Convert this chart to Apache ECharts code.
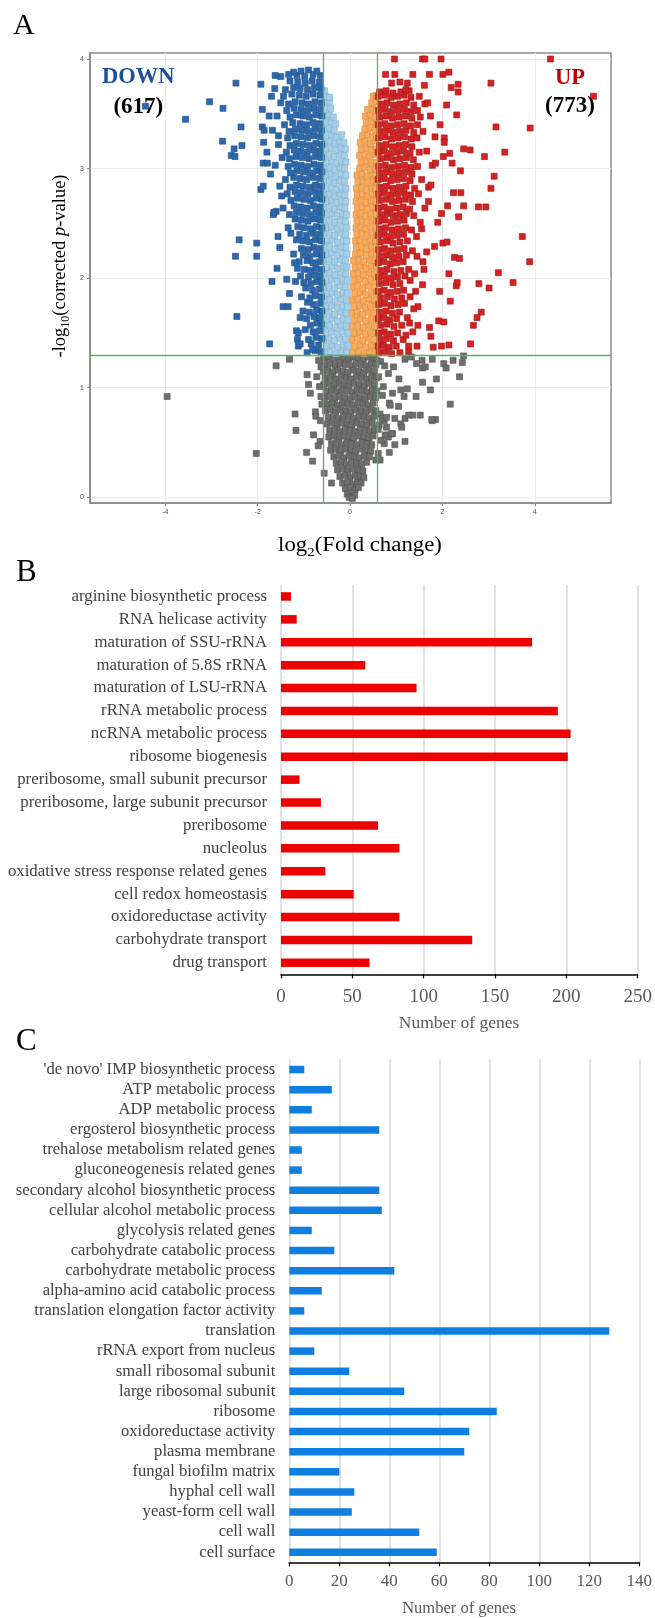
<!DOCTYPE html>
<html><head><meta charset="utf-8">
<script src="https://cdn.jsdelivr.net/npm/echarts@6/dist/echarts.min.js"></script>
<style>html,body{margin:0;padding:0;background:#fff}#c{width:655px;height:1618px}</style>
</head><body><div id="c"></div>
<script>
// ---------- Panel A: volcano plot ----------
const fcCut = 0.585;   // log2(1.5)
const pCut = 1.301;    // -log10(0.05)
const volXTicks = [-4, -2, 0, 2, 4];
const volYTicks = [0, 1, 2, 3, 4];
const downCount = '(617)';
const upCount = '(773)';

const grayPts = [
[-0.57,1.27],[-0.46,1.28],[-0.35,1.26],[-0.24,1.28],[-0.13,1.27],[-0.03,1.26],[0.07,1.28],[0.18,1.27],[0.29,1.26],[0.40,1.28],[0.51,1.27],[0.58,1.25],
[-0.55,1.21],[-0.44,1.22],[-0.32,1.20],[-0.21,1.22],[-0.10,1.21],[0.04,1.20],[0.13,1.22],[0.24,1.21],[0.35,1.20],[0.46,1.22],[0.56,1.21],
[-0.58,1.15],[-0.48,1.16],[-0.37,1.14],[-0.26,1.16],[-0.15,1.15],[-0.05,1.14],[0.08,1.16],[0.19,1.15],[0.30,1.14],[0.41,1.16],[0.52,1.15],
[-0.54,1.09],[-0.42,1.10],[-0.31,1.08],[-0.19,1.10],[-0.08,1.09],[0.03,1.08],[0.14,1.10],[0.25,1.09],[0.36,1.08],[0.47,1.10],[0.57,1.09],
[-0.57,1.03],[-0.45,1.04],[-0.34,1.02],[-0.23,1.04],[-0.12,1.03],[-0.02,1.02],[0.09,1.04],[0.20,1.03],[0.31,1.02],[0.42,1.04],[0.53,1.03],
[-0.52,0.97],[-0.40,0.98],[-0.29,0.96],[-0.18,0.98],[-0.07,0.97],[0.05,0.96],[0.15,0.98],[0.26,0.97],[0.37,0.96],[0.48,0.98],[0.58,0.97],
[-0.55,0.91],[-0.44,0.92],[-0.33,0.90],[-0.22,0.92],[-0.11,0.91],[0.01,0.90],[0.11,0.92],[0.22,0.91],[0.33,0.90],[0.44,0.92],[0.55,0.91],
[-0.50,0.85],[-0.39,0.86],[-0.27,0.84],[-0.16,0.86],[-0.05,0.85],[0.06,0.84],[0.17,0.86],[0.28,0.85],[0.39,0.84],[0.50,0.86],
[-0.53,0.79],[-0.42,0.80],[-0.31,0.78],[-0.20,0.80],[-0.09,0.79],[0.02,0.78],[0.13,0.80],[0.24,0.79],[0.35,0.78],[0.46,0.80],[0.56,0.79],
[-0.47,0.73],[-0.36,0.74],[-0.25,0.72],[-0.14,0.74],[-0.03,0.73],[0.08,0.72],[0.19,0.74],[0.30,0.73],[0.41,0.72],[0.52,0.74],
[-0.50,0.67],[-0.39,0.68],[-0.28,0.66],[-0.17,0.68],[-0.06,0.67],[0.04,0.66],[0.15,0.68],[0.26,0.67],[0.37,0.66],[0.48,0.68],
[-0.44,0.61],[-0.33,0.62],[-0.22,0.60],[-0.11,0.62],[0.00,0.61],[0.11,0.60],[0.22,0.62],[0.33,0.61],[0.44,0.60],[0.53,0.62],
[-0.46,0.55],[-0.35,0.56],[-0.24,0.54],[-0.13,0.56],[-0.02,0.55],[0.08,0.54],[0.19,0.56],[0.30,0.55],[0.41,0.54],[0.50,0.56],
[-0.40,0.49],[-0.29,0.50],[-0.18,0.48],[-0.07,0.50],[0.04,0.49],[0.15,0.48],[0.26,0.50],[0.37,0.49],[0.47,0.48],
[-0.42,0.43],[-0.31,0.44],[-0.20,0.42],[-0.09,0.44],[0.02,0.43],[0.12,0.42],[0.23,0.44],[0.34,0.43],[0.45,0.42],
[-0.35,0.37],[-0.24,0.38],[-0.13,0.36],[-0.02,0.38],[0.09,0.37],[0.20,0.36],[0.31,0.38],[0.42,0.37],
[-0.30,0.31],[-0.19,0.32],[-0.08,0.30],[0.03,0.32],[0.14,0.31],[0.25,0.30],[0.36,0.32],
[-0.27,0.25],[-0.16,0.26],[-0.05,0.24],[0.06,0.26],[0.17,0.25],[0.28,0.24],
[-0.22,0.19],[-0.11,0.20],[0.00,0.18],[0.11,0.20],[0.22,0.19],[0.30,0.18],
[-0.16,0.13],[-0.05,0.14],[0.06,0.12],[0.16,0.14],[0.24,0.13],
[-0.10,0.08],[0.01,0.09],[0.11,0.07],[0.18,0.09],
[-0.06,0.03],[0.04,0.04],[0.10,0.02],
[-0.02,0.00],[0.05,-0.01],
[-3.96,0.92],[-2.03,0.40],[-1.60,1.20],[-1.31,1.26],[-0.93,1.12],[-0.90,1.03],[-0.86,0.95],[-1.19,0.76],[-1.17,0.61],[-0.75,0.78],[-0.74,0.74],[-0.79,0.57],[-0.94,0.41],[-0.81,0.33],[-0.65,0.51],[-0.69,0.47],[-0.56,0.22],[-0.63,1.19],[-0.66,1.01],[-0.63,0.92],[-0.40,0.13],[-0.68,1.25],[-0.72,1.10],[-0.64,0.70],[-0.61,0.85],
[2.46,1.29],[2.43,1.23],[2.37,1.10],[2.23,1.25],[2.03,1.22],[2.08,1.18],[2.17,0.85],[1.87,1.08],[1.74,0.98],[1.57,1.05],[1.78,1.26],[1.57,1.18],[1.63,1.19],[1.85,0.71],[1.78,0.70],[1.56,1.25],[1.44,1.22],[1.33,1.28],[1.19,1.26],[1.43,0.92],[1.10,0.98],[1.17,0.92],[1.24,0.99],[1.36,0.75],[1.19,0.72],[1.27,0.75],[0.97,0.72],[1.10,0.67],[1.12,0.64],[0.92,0.58],[0.83,0.55],[0.74,0.49],[1.19,0.51],[0.97,0.48],[0.85,0.41],[0.68,0.52],[0.85,0.86],[0.65,0.76],[0.74,0.70],[0.79,0.64],[0.63,0.66],[0.61,0.40],[0.56,0.34],[0.94,1.19],[0.83,1.13],[1.06,1.08],[0.72,1.01],[0.92,0.95],[0.87,0.84],[1.05,0.83],[0.69,0.72],[0.79,0.73],[1.52,0.75],[1.77,0.71],[0.90,0.58],[0.76,0.57],[0.65,0.34],[0.66,1.24],[0.75,1.20],[0.62,1.10],[0.70,0.93],[0.61,0.62]
];

const lightBluePts = [
[-0.55,1.32],[-0.43,1.33],[-0.31,1.31],[-0.19,1.33],[-0.07,1.32],
[-0.51,1.38],[-0.39,1.39],[-0.27,1.37],[-0.15,1.39],[-0.04,1.38],
[-0.56,1.44],[-0.45,1.45],[-0.34,1.43],[-0.22,1.45],[-0.10,1.44],
[-0.52,1.50],[-0.40,1.51],[-0.28,1.49],[-0.16,1.51],[-0.05,1.50],
[-0.55,1.56],[-0.44,1.57],[-0.32,1.55],[-0.20,1.57],[-0.08,1.56],
[-0.51,1.62],[-0.39,1.63],[-0.27,1.61],[-0.15,1.63],[-0.05,1.62],
[-0.56,1.68],[-0.45,1.69],[-0.33,1.67],[-0.21,1.69],[-0.09,1.68],
[-0.52,1.74],[-0.40,1.75],[-0.28,1.73],[-0.16,1.75],[-0.06,1.74],
[-0.55,1.80],[-0.44,1.81],[-0.32,1.79],[-0.20,1.81],[-0.08,1.80],
[-0.51,1.86],[-0.39,1.87],[-0.27,1.85],[-0.15,1.87],[-0.06,1.86],
[-0.56,1.92],[-0.45,1.93],[-0.33,1.91],[-0.21,1.93],[-0.10,1.92],
[-0.52,1.98],[-0.40,1.99],[-0.28,1.97],[-0.16,1.99],[-0.06,1.98],
[-0.55,2.04],[-0.44,2.05],[-0.32,2.03],[-0.20,2.05],[-0.09,2.04],
[-0.51,2.10],[-0.39,2.11],[-0.27,2.09],[-0.15,2.11],[-0.07,2.10],
[-0.56,2.16],[-0.45,2.17],[-0.33,2.15],[-0.21,2.17],[-0.10,2.16],
[-0.52,2.22],[-0.40,2.23],[-0.28,2.21],[-0.16,2.23],[-0.07,2.22],
[-0.55,2.28],[-0.44,2.29],[-0.32,2.27],[-0.20,2.29],[-0.09,2.28],
[-0.51,2.34],[-0.39,2.35],[-0.27,2.33],[-0.15,2.35],[-0.07,2.34],
[-0.56,2.40],[-0.45,2.41],[-0.33,2.39],[-0.21,2.41],[-0.10,2.40],
[-0.52,2.46],[-0.40,2.47],[-0.28,2.45],[-0.17,2.47],[-0.08,2.46],
[-0.55,2.52],[-0.44,2.53],[-0.32,2.51],[-0.21,2.53],[-0.10,2.52],
[-0.51,2.58],[-0.39,2.59],[-0.28,2.57],[-0.17,2.59],[-0.08,2.58],
[-0.56,2.64],[-0.45,2.65],[-0.33,2.63],[-0.22,2.65],[-0.11,2.64],
[-0.52,2.70],[-0.40,2.71],[-0.29,2.69],[-0.18,2.71],[-0.09,2.70],
[-0.55,2.76],[-0.44,2.77],[-0.33,2.75],[-0.22,2.77],[-0.11,2.76],
[-0.51,2.82],[-0.40,2.83],[-0.29,2.81],[-0.18,2.83],[-0.09,2.82],
[-0.56,2.88],[-0.45,2.89],[-0.34,2.87],[-0.23,2.89],[-0.12,2.88],
[-0.52,2.94],[-0.41,2.95],[-0.30,2.93],[-0.19,2.95],[-0.09,2.94],
[-0.55,3.00],[-0.44,3.01],[-0.33,2.99],[-0.22,3.01],[-0.12,3.00],
[-0.51,3.06],[-0.40,3.07],[-0.29,3.05],[-0.18,3.07],[-0.09,3.06],
[-0.56,3.12],[-0.45,3.13],[-0.34,3.11],[-0.23,3.13],[-0.12,3.12],
[-0.52,3.18],[-0.41,3.19],[-0.30,3.17],[-0.19,3.19],[-0.10,3.18],
[-0.55,3.24],[-0.44,3.25],[-0.33,3.23],[-0.22,3.25],[-0.13,3.24],
[-0.51,3.30],[-0.40,3.31],[-0.29,3.29],[-0.18,3.31],
[-0.55,3.36],[-0.44,3.37],[-0.34,3.35],
[-0.52,3.42],[-0.41,3.43],[-0.31,3.41],
[-0.56,3.48],[-0.45,3.49],[-0.36,3.47],
[-0.52,3.54],[-0.42,3.55],
[-0.55,3.60],[-0.45,3.61],
[-0.53,3.66],[-0.44,3.65],
[-0.55,3.71]
];

const orangePts = [
[0.06,1.32],[0.18,1.33],[0.30,1.31],[0.42,1.33],[0.54,1.32],
[0.10,1.38],[0.22,1.39],[0.34,1.37],[0.46,1.39],[0.57,1.38],
[0.05,1.44],[0.16,1.45],[0.28,1.43],[0.40,1.45],[0.52,1.44],
[0.09,1.50],[0.21,1.51],[0.33,1.49],[0.45,1.51],[0.56,1.50],
[0.06,1.56],[0.17,1.57],[0.29,1.55],[0.41,1.57],[0.53,1.56],
[0.10,1.62],[0.22,1.63],[0.34,1.61],[0.46,1.63],[0.57,1.62],
[0.05,1.68],[0.16,1.69],[0.28,1.67],[0.40,1.69],[0.52,1.68],
[0.09,1.74],[0.21,1.75],[0.33,1.73],[0.45,1.75],[0.56,1.74],
[0.06,1.80],[0.17,1.81],[0.29,1.79],[0.41,1.81],[0.53,1.80],
[0.10,1.86],[0.22,1.87],[0.34,1.85],[0.46,1.87],[0.57,1.86],
[0.06,1.92],[0.17,1.93],[0.28,1.91],[0.40,1.93],[0.52,1.92],
[0.10,1.98],[0.21,1.99],[0.33,1.97],[0.45,1.99],[0.56,1.98],
[0.07,2.04],[0.18,2.05],[0.29,2.03],[0.41,2.05],[0.53,2.04],
[0.11,2.10],[0.22,2.11],[0.34,2.09],[0.46,2.11],[0.57,2.10],
[0.08,2.16],[0.19,2.17],[0.30,2.15],[0.42,2.17],[0.54,2.16],
[0.12,2.22],[0.23,2.23],[0.35,2.21],[0.47,2.23],[0.57,2.22],
[0.14,2.28],[0.25,2.29],[0.36,2.27],[0.47,2.29],[0.57,2.28],
[0.12,2.34],[0.22,2.35],[0.33,2.33],[0.44,2.35],[0.55,2.34],
[0.15,2.40],[0.26,2.41],[0.37,2.39],[0.48,2.41],[0.57,2.40],
[0.13,2.46],[0.23,2.47],[0.34,2.45],[0.45,2.47],[0.56,2.46],
[0.15,2.52],[0.26,2.53],[0.37,2.51],[0.48,2.53],[0.57,2.52],
[0.13,2.58],[0.23,2.59],[0.34,2.57],[0.45,2.59],[0.56,2.58],
[0.16,2.64],[0.27,2.65],[0.38,2.63],[0.49,2.65],[0.57,2.64],
[0.13,2.70],[0.24,2.71],[0.35,2.69],[0.46,2.71],[0.56,2.70],
[0.16,2.76],[0.27,2.77],[0.38,2.75],[0.49,2.77],[0.57,2.76],
[0.14,2.82],[0.25,2.83],[0.36,2.81],[0.47,2.83],[0.56,2.82],
[0.17,2.88],[0.28,2.89],[0.39,2.87],[0.50,2.89],[0.57,2.88],
[0.15,2.94],[0.26,2.95],[0.37,2.93],[0.48,2.95],[0.56,2.94],
[0.21,3.00],[0.32,3.01],[0.43,2.99],[0.54,3.01],
[0.24,3.06],[0.35,3.07],[0.46,3.05],[0.57,3.06],
[0.21,3.12],[0.32,3.13],[0.43,3.11],[0.54,3.13],
[0.24,3.18],[0.35,3.19],[0.46,3.17],[0.57,3.18],
[0.22,3.24],[0.33,3.25],[0.44,3.23],[0.55,3.25],
[0.27,3.30],[0.38,3.31],[0.49,3.29],[0.57,3.30],
[0.32,3.36],[0.43,3.37],[0.54,3.35],
[0.35,3.42],[0.46,3.43],[0.57,3.41],
[0.33,3.48],[0.44,3.49],[0.55,3.47],
[0.38,3.54],[0.49,3.55],[0.57,3.53],
[0.47,3.60],[0.56,3.61],
[0.50,3.66],[0.57,3.67]
];

const darkBluePts = [
[-0.63,1.33],[-0.76,1.34],[-0.93,1.32],
[-0.68,1.39],[-0.84,1.40],[-1.12,1.38],
[-0.61,1.45],[-0.74,1.46],[-0.90,1.44],
[-0.66,1.52],[-0.80,1.51],[-0.97,1.53],[-1.16,1.52],
[-0.62,1.58],[-0.72,1.59],[-0.86,1.57],
[-0.65,1.64],[-0.78,1.65],[-0.94,1.63],[-1.08,1.64],
[-0.61,1.70],[-0.73,1.71],[-0.88,1.69],[-1.02,1.70],
[-0.64,1.77],[-0.79,1.76],[-0.92,1.78],
[-0.62,1.83],[-0.75,1.84],[-0.87,1.82],[-1.05,1.83],
[-0.66,1.90],[-0.81,1.89],[-0.96,1.91],
[-0.61,1.96],[-0.72,1.97],[-0.85,1.95],[-1.00,1.96],[-1.18,1.97],
[-0.64,2.02],[-0.77,2.03],[-0.90,2.01],[-1.07,2.02],
[-0.62,2.08],[-0.74,2.09],[-0.86,2.07],[-0.99,2.08],[-1.14,2.09],
[-0.66,2.15],[-0.80,2.14],[-0.93,2.16],[-1.10,2.15],
[-0.61,2.21],[-0.73,2.22],[-0.87,2.20],[-1.01,2.21],[-1.22,2.22],
[-0.64,2.27],[-0.78,2.28],[-0.91,2.26],[-1.05,2.27],
[-0.62,2.34],[-0.75,2.35],[-0.88,2.33],[-1.02,2.34],[-1.16,2.35],
[-0.66,2.40],[-0.80,2.41],[-0.94,2.39],[-1.09,2.40],[-1.28,2.41],
[-0.61,2.46],[-0.73,2.47],[-0.86,2.45],[-1.00,2.46],[-1.13,2.47],
[-0.64,2.53],[-0.77,2.54],[-0.91,2.52],[-1.05,2.53],[-1.19,2.54],
[-0.62,2.59],[-0.74,2.60],[-0.88,2.58],[-1.02,2.59],[-1.16,2.60],[-1.31,2.58],
[-0.65,2.65],[-0.79,2.66],[-0.93,2.64],[-1.07,2.65],[-1.21,2.66],[-1.45,2.64],
[-0.61,2.72],[-0.73,2.73],[-0.86,2.71],[-1.00,2.72],[-1.14,2.73],[-1.28,2.71],
[-0.64,2.78],[-0.77,2.79],[-0.91,2.77],[-1.05,2.78],[-1.19,2.79],[-1.36,2.77],
[-0.62,2.84],[-0.75,2.85],[-0.88,2.83],[-1.02,2.84],[-1.16,2.85],[-1.30,2.83],[-1.52,2.84],
[-0.66,2.91],[-0.80,2.92],[-0.94,2.90],[-1.08,2.91],[-1.22,2.92],[-1.40,2.90],
[-0.61,2.97],[-0.73,2.98],[-0.87,2.96],[-1.01,2.97],[-1.15,2.98],[-1.29,2.96],
[-0.64,3.03],[-0.78,3.04],[-0.92,3.02],[-1.06,3.03],[-1.20,3.04],[-1.34,3.02],[-1.62,3.03],
[-0.62,3.10],[-0.75,3.11],[-0.89,3.09],[-1.03,3.10],[-1.17,3.11],[-1.31,3.09],[-1.47,3.10],
[-0.65,3.16],[-0.79,3.17],[-0.93,3.15],[-1.07,3.16],[-1.21,3.17],[-1.38,3.15],
[-0.61,3.22],[-0.74,3.23],[-0.88,3.21],[-1.02,3.22],[-1.16,3.23],[-1.30,3.21],[-1.55,3.22],
[-0.64,3.29],[-0.78,3.30],[-0.92,3.28],[-1.06,3.29],[-1.20,3.30],[-1.35,3.28],
[-0.62,3.35],[-0.76,3.36],[-0.90,3.34],[-1.04,3.35],[-1.18,3.36],[-1.32,3.34],[-1.68,3.35],
[-0.66,3.41],[-0.80,3.42],[-0.94,3.40],[-1.08,3.41],[-1.24,3.42],[-1.42,3.40],
[-0.61,3.48],[-0.74,3.49],[-0.88,3.47],[-1.02,3.48],[-1.16,3.49],[-1.30,3.47],[-1.58,3.48],
[-0.64,3.54],[-0.78,3.55],[-0.92,3.53],[-1.06,3.54],[-1.21,3.55],[-1.37,3.53],
[-0.62,3.60],[-0.76,3.61],[-0.90,3.59],[-1.04,3.60],[-1.19,3.61],[-1.33,3.59],[-1.50,3.60],
[-0.65,3.67],[-0.80,3.68],[-0.95,3.66],[-1.10,3.67],[-1.26,3.68],[-1.44,3.66],
[-0.63,3.73],[-0.77,3.74],[-0.92,3.72],[-1.08,3.73],[-1.22,3.74],[-1.40,3.72],[-1.63,3.73],
[-0.66,3.79],[-0.82,3.80],[-0.97,3.78],[-1.13,3.79],[-1.30,3.80],
[-0.64,3.85],[-0.80,3.86],[-0.98,3.84],[-1.15,3.85],[-1.33,3.86],[-1.50,3.84],
[-0.72,3.89],[-0.90,3.90],[-1.06,3.89],[-1.22,3.88],
[-4.43,3.57],[-3.56,3.45],[-3.04,3.61],[-2.75,3.55],[-2.47,3.78],[-2.36,3.38],[-2.76,3.25],[-2.51,3.18],[-2.34,3.21],[-2.57,3.12],[-2.49,3.11],[-1.93,3.77],[-1.90,3.54],[-1.90,3.38],[-1.86,3.35],[-1.87,3.24],[-1.88,3.05],[-1.79,3.05],[-1.93,2.81],[-1.88,2.84],[-1.60,2.61],[-1.66,2.58],[-2.45,1.65],[-1.74,1.40],[-1.69,1.97],[-1.58,2.09],[-1.37,1.99],[-1.45,1.74],[-1.34,1.74],[-1.31,1.86],[-1.20,2.14],[-1.14,1.44],[-1.08,1.40],[-1.12,1.50],[-0.81,1.35],[-2.48,2.20],[-2.02,2.20],[-2.40,2.35],[-2.02,2.32],[-1.52,2.28],[-1.56,2.38],[-1.34,2.46],[-1.65,2.60],[-1.72,2.95],[-1.80,3.15],[-1.75,3.48],[-1.62,3.85],[-1.70,3.66],[-1.55,3.30],[-1.48,2.75]
];

const redPts = [
[0.63,1.32],[0.76,1.33],[0.90,1.31],[1.08,1.32],[1.27,1.33],
[0.61,1.38],[0.72,1.39],[0.85,1.37],[1.00,1.38],
[0.65,1.44],[0.79,1.45],[0.94,1.43],[1.15,1.44],
[0.62,1.50],[0.74,1.51],[0.88,1.49],[1.03,1.50],[1.36,1.51],
[0.66,1.57],[0.80,1.58],[0.95,1.56],[1.12,1.57],
[0.61,1.63],[0.73,1.64],[0.86,1.62],[1.01,1.63],[1.24,1.64],
[0.64,1.69],[0.78,1.70],[0.92,1.68],[1.07,1.69],
[0.62,1.76],[0.75,1.77],[0.89,1.75],[1.04,1.76],[1.18,1.77],
[0.66,1.82],[0.81,1.83],[0.96,1.81],[1.12,1.82],[1.30,1.83],
[0.61,1.88],[0.74,1.89],[0.88,1.87],[1.02,1.88],[1.16,1.89],
[0.64,1.95],[0.78,1.96],[0.93,1.94],[1.08,1.95],
[0.62,2.01],[0.75,2.02],[0.89,2.00],[1.03,2.01],[1.19,2.02],
[0.66,2.07],[0.80,2.08],[0.95,2.06],[1.10,2.07],[1.27,2.08],
[0.61,2.14],[0.73,2.15],[0.87,2.13],[1.01,2.14],[1.15,2.15],
[0.64,2.20],[0.78,2.21],[0.92,2.19],[1.06,2.20],[1.22,2.21],
[0.62,2.26],[0.75,2.27],[0.89,2.25],[1.03,2.26],[1.17,2.27],[1.35,2.25],
[0.65,2.33],[0.79,2.34],[0.93,2.32],[1.08,2.33],[1.24,2.34],
[0.61,2.39],[0.74,2.40],[0.88,2.38],[1.02,2.39],[1.16,2.40],[1.44,2.38],
[0.64,2.45],[0.77,2.46],[0.91,2.44],[1.05,2.45],[1.20,2.46],[1.33,2.44],
[0.62,2.52],[0.75,2.53],[0.89,2.51],[1.03,2.52],[1.17,2.53],[1.52,2.51],
[0.66,2.58],[0.80,2.59],[0.94,2.57],[1.08,2.58],[1.22,2.59],[1.38,2.57],
[0.61,2.64],[0.74,2.65],[0.87,2.63],[1.01,2.64],[1.15,2.65],[1.29,2.63],[1.62,2.64],
[0.64,2.71],[0.78,2.72],[0.92,2.70],[1.06,2.71],[1.20,2.72],[1.35,2.70],
[0.62,2.77],[0.75,2.78],[0.89,2.76],[1.03,2.77],[1.17,2.78],[1.31,2.76],[1.48,2.77],
[0.65,2.83],[0.79,2.84],[0.93,2.82],[1.07,2.83],[1.21,2.84],[1.40,2.82],[1.70,2.83],
[0.61,2.90],[0.74,2.91],[0.88,2.89],[1.02,2.90],[1.16,2.91],[1.30,2.89],[1.55,2.90],
[0.64,2.96],[0.78,2.97],[0.92,2.95],[1.06,2.96],[1.20,2.97],[1.34,2.95],
[0.62,3.02],[0.76,3.03],[0.90,3.01],[1.04,3.02],[1.18,3.03],[1.32,3.01],[1.46,3.02],[1.78,3.03],
[0.66,3.09],[0.80,3.10],[0.94,3.08],[1.08,3.09],[1.22,3.10],[1.37,3.08],
[0.61,3.15],[0.74,3.16],[0.88,3.14],[1.02,3.15],[1.16,3.16],[1.30,3.14],[1.50,3.15],[1.66,3.16],
[0.64,3.21],[0.78,3.22],[0.92,3.20],[1.06,3.21],[1.20,3.22],[1.34,3.20],
[0.62,3.28],[0.76,3.29],[0.90,3.27],[1.04,3.28],[1.18,3.29],[1.32,3.27],[1.45,3.28],[1.84,3.29],
[0.65,3.34],[0.79,3.35],[0.93,3.33],[1.07,3.34],[1.21,3.35],[1.38,3.33],[1.58,3.34],
[0.61,3.40],[0.75,3.41],[0.89,3.39],[1.03,3.40],[1.17,3.41],[1.31,3.39],[1.46,3.40],
[0.64,3.47],[0.78,3.48],[0.92,3.46],[1.06,3.47],[1.20,3.48],[1.34,3.46],[1.52,3.47],[1.74,3.48],
[0.62,3.53],[0.76,3.54],[0.90,3.52],[1.04,3.53],[1.18,3.54],[1.32,3.52],[1.46,3.53],
[0.66,3.59],[0.80,3.60],[0.94,3.58],[1.08,3.59],[1.22,3.60],[1.38,3.58],[1.62,3.59],
[0.61,3.66],[0.75,3.67],[0.89,3.65],[1.03,3.66],[1.17,3.67],[1.32,3.65],[1.50,3.66],
[0.64,3.70],[0.78,3.71],[0.93,3.69],[1.10,3.70],[1.28,3.71],
[0.96,4.00],[1.57,4.00],[1.62,4.00],[1.97,4.00],[4.34,4.00],[0.77,3.86],[0.97,3.86],[1.36,3.86],[1.72,3.86],[2.01,3.86],[2.14,3.88],[3.05,3.78],[2.19,3.74],[2.34,3.77],[2.34,3.70],[1.61,3.76],[1.21,3.72],[1.24,3.78],[0.90,3.78],[1.08,3.79],[5.27,3.66],[2.09,3.58],[2.31,3.49],[3.16,3.38],[3.90,3.37],[2.04,3.28],[2.04,3.24],[2.46,3.18],[2.60,3.17],[2.91,3.11],[3.35,3.15],[2.16,3.14],[2.02,3.11],[2.21,3.05],[2.39,2.98],[3.12,2.93],[3.05,2.82],[2.24,2.78],[2.40,2.78],[2.46,2.66],[2.78,2.65],[2.94,2.65],[2.11,2.66],[1.98,2.59],[1.90,2.51],[2.35,2.56],[3.73,2.38],[3.89,2.15],[3.21,2.05],[3.53,1.96],[2.79,1.95],[3.01,1.91],[2.84,1.69],[2.75,1.64],[2.67,1.57],[2.61,1.40],[2.14,1.39],[1.98,1.38],[1.80,1.37],[2.17,1.79],[1.92,1.61],[2.03,1.60],[1.72,1.55],[1.75,1.47],[1.47,1.57],[1.47,1.74],[1.94,1.88],[2.30,1.93],[2.32,1.96],[2.14,2.04],[2.26,2.19],[2.37,2.18],[1.83,2.29],[2.01,2.32],[1.66,2.24],[2.10,2.33],[1.42,1.88],[1.57,1.94],[1.60,2.08],[1.40,2.04],[1.29,1.59],[1.21,1.48],[1.45,1.38],[1.27,1.38],[1.55,2.45],[1.75,2.85],[1.85,3.05],[1.95,3.40],[1.68,3.60],[1.45,2.20],[1.30,1.98],[1.38,1.72],[1.70,2.70],[1.58,2.15]
];

// ---------- Panel B: up-regulated categories ----------
const bCategories = ['arginine biosynthetic process','RNA helicase activity','maturation of SSU-rRNA','maturation of 5.8S rRNA','maturation of LSU-rRNA','rRNA metabolic process','ncRNA metabolic process','ribosome biogenesis','preribosome, small subunit precursor','preribosome, large subunit precursor','preribosome','nucleolus','oxidative stress response related genes','cell redox homeostasis','oxidoreductase activity','carbohydrate transport','drug transport'];
const bValues = [7, 11, 176, 59, 95, 194, 203, 201, 13, 28, 68, 83, 31, 51, 83, 134, 62];

// ---------- Panel C: down-regulated categories ----------
const cCategories = ["'de novo' IMP biosynthetic process",'ATP metabolic process','ADP metabolic process','ergosterol biosynthetic process','trehalose metabolism related genes','gluconeogenesis related genes','secondary alcohol biosynthetic process','cellular alcohol metabolic process','glycolysis related genes','carbohydrate catabolic process','carbohydrate metabolic process','alpha-amino acid catabolic process','translation elongation factor activity','translation','rRNA export from nucleus','small ribosomal subunit','large ribosomal subunit','ribosome','oxidoreductase activity','plasma membrane','fungal biofilm matrix','hyphal cell wall','yeast-form cell wall','cell wall','cell surface'];
const cValues = [6, 17, 9, 36, 5, 5, 36, 37, 9, 18, 42, 13, 6, 128, 10, 24, 46, 83, 72, 70, 20, 26, 25, 52, 59];

const serif = "'Liberation Serif','Times New Roman',Times,serif";
const sans = "'Liberation Sans','DejaVu Sans',Arial,sans-serif";
const chart = echarts.init(document.getElementById('c'), null, {renderer: 'canvas'});

function vol(name, data, fill, border) {
  return {type: 'scatter', name: name, data: data, xAxisIndex: 0, yAxisIndex: 0,
    symbol: 'rect', symbolSize: 6, silent: true, animation: false,
    itemStyle: {color: fill, borderColor: border, borderWidth: 0.6, opacity: 1}};
}
function txt(x, y, text, size, opts) {
  opts = opts || {};
  return {type: 'text', x: x, y: y, rotation: opts.rotation || 0, scaleX: opts.scaleX || 1, z: 10, silent: true,
    style: Object.assign({text: text, fontSize: size, fontFamily: opts.family || serif,
      fontWeight: opts.weight || 'normal', fill: opts.color || '#000',
      textAlign: opts.align || 'center', align: opts.align || 'center',
      textVerticalAlign: opts.valign || 'middle', verticalAlign: opts.valign || 'middle'}, opts.extra || {})};
}
function subRich(size) {
  return {
    n: {fontSize: size, fontFamily: serif, fill: '#000', lineHeight: size + 6},
    s: {fontSize: Math.round(size * 0.65), fontFamily: serif, fill: '#000', lineHeight: Math.round(size * 0.65), verticalAlign: 'bottom'},
    i: {fontSize: size, fontFamily: serif, fill: '#000', lineHeight: size + 6, fontStyle: 'italic'}
  };
}

const option = {
  animation: false,
  backgroundColor: '#fff',
  grid: [
    {left: 90, top: 53, width: 521, height: 450, show: true, borderColor: '#8a8a8a', borderWidth: 1.5, backgroundColor: '#fff'},
    {left: 281, top: 585, width: 356.7, height: 389.3},
    {left: 289.3, top: 1059.5, width: 352.4, height: 502.8}
  ],
  xAxis: [
    {type: 'value', gridIndex: 0, min: -5.63, max: 5.65,
      axisLine: {show: true, onZero: false, lineStyle: {color: '#8a8a8a', width: 1.5}},
      axisTick: {show: true, length: 3, customValues: volXTicks, lineStyle: {color: '#8a8a8a', width: 1}},
      axisLabel: {customValues: volXTicks, fontSize: 7, color: '#4d4d4d', margin: 6, fontFamily: sans},
      splitLine: {show: true, lineStyle: {color: '#ececec', width: 1}}},
    {type: 'value', gridIndex: 1, min: 0, max: 250, interval: 50,
      axisLine: {show: true, onZero: false, lineStyle: {color: '#000', width: 1.5}},
      axisTick: {show: true, length: 4, lineStyle: {color: '#000', width: 1.2}},
      axisLabel: {fontSize: 19, color: '#595959', margin: 13, fontFamily: serif},
      splitLine: {show: true, showMinLine: true, showMaxLine: true, lineStyle: {color: '#d9d9d9', width: 1.5}}},
    {type: 'value', gridIndex: 2, min: 0, max: 140, interval: 20,
      axisLine: {show: true, onZero: false, lineStyle: {color: '#000', width: 1.5}},
      axisTick: {show: true, length: 4, lineStyle: {color: '#000', width: 1.2}},
      axisLabel: {fontSize: 17, color: '#595959', margin: 11, fontFamily: serif},
      splitLine: {show: true, showMinLine: true, showMaxLine: true, lineStyle: {color: '#d9d9d9', width: 1.5}}}
  ],
  yAxis: [
    {type: 'value', gridIndex: 0, min: -0.052, max: 4.055,
      axisLine: {show: true, onZero: false, lineStyle: {color: '#8a8a8a', width: 1.5}},
      axisTick: {show: true, length: 3, customValues: volYTicks, lineStyle: {color: '#8a8a8a', width: 1}},
      axisLabel: {customValues: volYTicks, fontSize: 7, color: '#4d4d4d', margin: 6, fontFamily: sans},
      splitLine: {show: true, lineStyle: {color: '#ececec', width: 1}}},
    {type: 'category', gridIndex: 1, data: bCategories, inverse: true,
      axisLine: {show: false}, axisTick: {show: false},
      axisLabel: {interval: 0, fontSize: 16.8, color: '#404040', margin: 14, fontFamily: serif}},
    {type: 'category', gridIndex: 2, data: cCategories, inverse: true,
      axisLine: {show: false}, axisTick: {show: false},
      axisLabel: {interval: 0, fontSize: 16.6, color: '#404040', margin: 14, fontFamily: serif}}
  ],
  series: [
    vol('ns', grayPts, '#6e6e6e', '#505050'),
    vol('down-small', lightBluePts, '#a6cee6', '#7eb0d0'),
    vol('up-small', orangePts, '#f9aa5c', '#d98a3c'),
    vol('down', darkBluePts, '#2c68ad', '#1d4f86'),
    vol('up', redPts, '#d42222', '#a01414'),
    {type: 'scatter', xAxisIndex: 0, yAxisIndex: 0, data: [], z: 6, silent: true,
      markLine: {silent: true, symbol: 'none', animation: false, label: {show: false},
        lineStyle: {color: '#55b555', width: 1.3, type: 'solid'},
        data: [{xAxis: -fcCut}, {xAxis: fcCut}, {yAxis: pCut}]}},
    {type: 'bar', xAxisIndex: 1, yAxisIndex: 1, data: bValues, barWidth: 8.5, silent: true,
      itemStyle: {color: '#ee0000'}},
    {type: 'bar', xAxisIndex: 2, yAxisIndex: 2, data: cValues, barWidth: 7.5, silent: true,
      itemStyle: {color: '#0e7fe0'}}
  ],
  graphic: [
    txt(13, 41.5, 'A', 30, {align: 'left', valign: 'bottom'}),
    txt(16, 588.4, 'B', 31, {align: 'left', valign: 'bottom'}),
    txt(16, 1057, 'C', 31, {align: 'left', valign: 'bottom'}),
    txt(138.3, 77.5, 'DOWN', 22.5, {weight: 'bold', color: '#1a4f9c'}),
    txt(138.3, 107, downCount, 23, {weight: 'bold'}),
    txt(570, 78, 'UP', 22.5, {weight: 'bold', color: '#c00000'}),
    txt(570, 106.5, upCount, 23, {weight: 'bold'}),
    txt(60, 266, '{n|-log}{s|10}{n|(corrected }{i|p}{n|-value)}', 18.5, {rotation: Math.PI / 2, extra: {rich: subRich(18.5)}}),
    txt(360, 546, '{n|log}{s|2}{n|(Fold change)}', 20, {scaleX: 1.14, extra: {rich: subRich(20)}}),
    txt(459, 1023.3, 'Number of genes', 17.5, {color: '#595959'}),
    txt(459, 1608.3, 'Number of genes', 16.5, {color: '#595959'})
  ]
};
chart.setOption(option);
</script></body></html>
